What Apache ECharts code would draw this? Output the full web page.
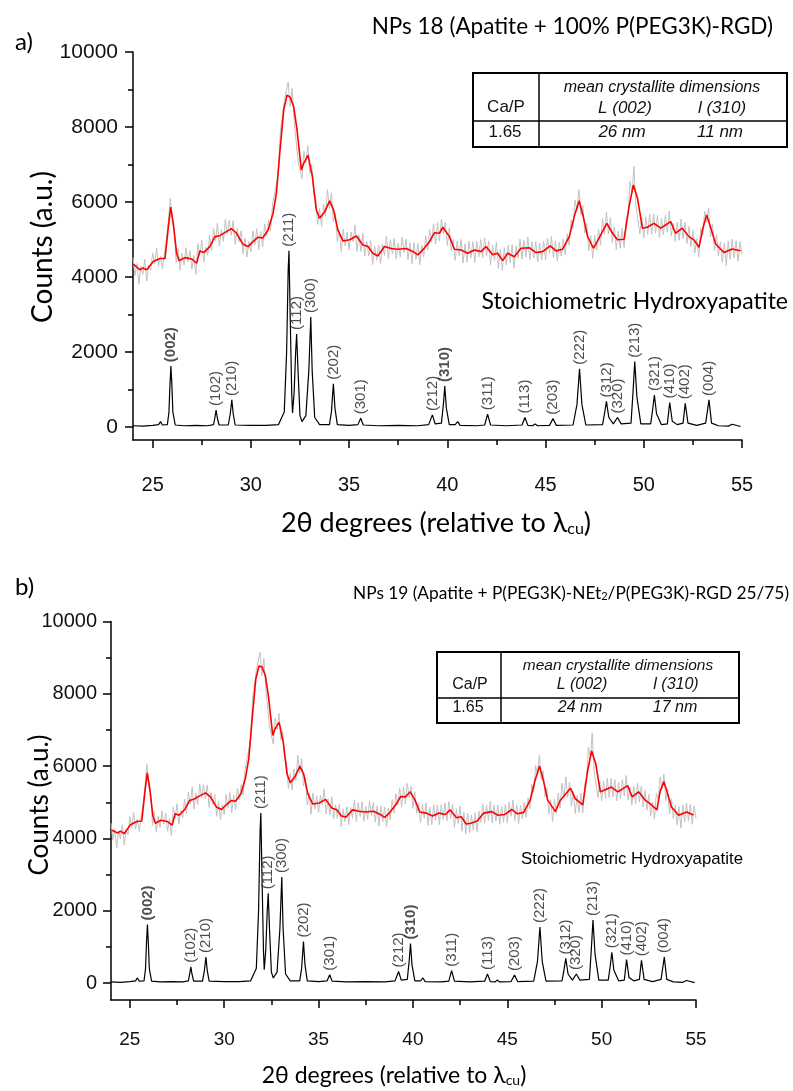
<!DOCTYPE html>
<html><head><meta charset="utf-8">
<script src="https://cdn.jsdelivr.net/npm/echarts@6/dist/echarts.min.js"></script>
<style>html,body{margin:0;padding:0;background:#fff}#c{width:793px;height:1091px}</style>
</head><body><div id="c"></div>
<script>
// ---------- DATA ----------
const xMajorTicks = [25,30,35,40,45,50,55];
const xMinorTicks = [27.5,32.5,37.5,42.5,47.5,52.5];
const yMajorTicks = [0,2000,4000,6000,8000,10000];
const yMinorTicks = [1000,3000,5000,7000,9000];

// smoothed (red) curve, chart a
const redA = [[24.02,4340],[24.36,4190],[24.5,4240],[24.7,4190],[25.03,4410],[25.37,4490],[25.63,4490],[25.8,5340],[25.92,5860],[26.05,5430],[26.22,4630],[26.35,4430],[26.64,4515],[26.98,4480],[27.24,4365],[27.4,4690],[27.6,4650],[27.91,4810],[28.17,5075],[28.42,5100],[28.67,5180],[29.01,5290],[29.27,5165],[29.6,4870],[29.86,4810],[30.11,4940],[30.37,5060],[30.6,5040],[30.88,5250],[31.13,5700],[31.3,6230],[31.47,7300],[31.67,8450],[31.84,8850],[32.01,8790],[32.18,8540],[32.35,7920],[32.57,6850],[32.69,7030],[32.91,7250],[33.13,6680],[33.33,5790],[33.5,5565],[33.76,5740],[34.01,6030],[34.21,5790],[34.43,5250],[34.69,4960],[35.03,4990],[35.37,5090],[35.7,4850],[35.96,4810],[36.21,4630],[36.46,4560],[36.8,4810],[37.14,4760],[37.48,4740],[37.91,4760],[38.24,4680],[38.5,4590],[38.75,4720],[39.09,4940],[39.35,5180],[39.6,5165],[39.77,5325],[40.11,5075],[40.36,4740],[40.7,4720],[41.04,4630],[41.38,4720],[41.72,4675],[41.97,4810],[42.31,4590],[42.56,4630],[42.82,4435],[43.07,4630],[43.41,4540],[43.75,4765],[44.17,4780],[44.51,4650],[44.85,4675],[45.24,4830],[45.53,4695],[45.87,4740],[46.21,5075],[46.46,5610],[46.71,6030],[46.92,5610],[47.14,5075],[47.44,4765],[47.73,5040],[48.12,5430],[48.41,5165],[48.66,4990],[49.0,5005],[49.25,5875],[49.47,6450],[49.68,6100],[49.93,5300],[50.18,5325],[50.52,5430],[50.86,5300],[51.11,5385],[51.37,5475],[51.62,5165],[51.96,5300],[52.3,5075],[52.55,4990],[52.81,4790],[53.03,5340],[53.2,5655],[53.4,5325],[53.66,4880],[54.08,4650],[54.5,4745],[54.93,4700]];

// raw (grey) counts, chart a, sampled every 0.1 degree from 24.0
const rawStart = 24.0, rawStep = 0.1;
const greyA = [
4520,4040,4350,3810,4290,4070,4470,3890,4320,4180,
4640,4340,4770,4290,4550,4210,4640,5000,5500,6100,
5450,5300,4370,4760,4180,4630,4315,4780,4400,4700,
4210,4570,4070,4880,4570,4980,4400,4790,4580,5110,
4700,5300,4965,5440,4820,5270,4950,5530,5140,5510,
5110,5500,4870,5290,4940,5230,4620,5030,4530,4950,
4670,5230,4860,5290,4725,5220,4800,5410,5080,5510,
5220,5920,5900,6480,6800,7880,7900,8700,8650,9200,
8550,9030,8200,8160,7100,7120,6620,7350,7040,7500,
6760,7000,6220,6120,5400,5824,5350,5940,5620,6330,
5827,6240,5470,5700,4940,5250,4680,5270,4830,5195,
4727,5200,4940,5383,4680,5120,4680,5163,4560,4950,
4560,4970,4330,4820,4440,4850,4360,4880,4570,5090,
4480,4990,4620,5030,4480,4900,4535,5060,4648,5004,
4460,4910,4350,4920,4470,4890,4330,4850,4530,5100,
4712,5260,4940,5420,4882,5450,4960,5540,5140,5460,
4840,5305,4700,4990,4440,4960,4570,5000,4370,4880,
4390,4950,4510,4940,4390,4950,4540,5000,4510,5040,
4570,4960,4320,4840,4430,4921,4230,4750,4170,4780,
4320,4850,4380,4860,4232,4820,4510,5010,4475,4970,
4535,5060,4450,4940,4500,4940,4400,4900,4456,4960,
4450,5030,4627,5080,4510,4950,4420,4930,4555,5020,
4600,5150,4845,5520,5310,6050,5780,6327,5650,5900,
5170,5430,4690,5100,4494,5110,4710,5270,4850,5560,
5140,5731,5150,5580,4914,5340,4730,5227,4765,5300,
4785,5550,5676,6550,6233,6950,5898,5930,5150,5577,
5045,5605,5130,5680,5140,5681,5170,5650,5050,5567,
5120,5647,5190,5756,5090,5440,4944,5460,4980,5547,
5020,5460,4890,5345,4800,5240,4640,5020,4541,5290,
5112,5750,5453,5830,5074,5400,4700,5130,4560,4940,
4390,4899,4300,4950,4470,5006,4505,4970,4420,4945,
4600];

// smoothed (red) curve, chart b
const redB = [[24.02,4230],[24.36,4150],[24.5,4200],[24.7,4130],[25.03,4380],[25.37,4470],[25.63,4480],[25.8,5300],[25.92,5810],[26.05,5400],[26.22,4620],[26.35,4420],[26.64,4500],[26.98,4470],[27.24,4370],[27.4,4680],[27.6,4640],[27.91,4800],[28.17,5050],[28.42,5090],[28.67,5170],[29.01,5260],[29.27,5150],[29.6,4860],[29.86,4800],[30.11,4930],[30.37,5050],[30.6,5030],[30.88,5230],[31.13,5680],[31.3,6200],[31.47,7250],[31.67,8400],[31.84,8770],[32.01,8740],[32.18,8500],[32.35,7900],[32.57,6850],[32.69,7030],[32.91,7210],[33.13,6650],[33.33,5780],[33.5,5540],[33.76,5720],[34.01,6000],[34.21,5780],[34.43,5240],[34.69,4950],[35.03,4980],[35.37,5080],[35.7,4840],[35.96,4790],[36.21,4620],[36.46,4590],[36.8,4790],[37.14,4750],[37.48,4730],[37.91,4750],[38.24,4670],[38.5,4580],[38.75,4700],[39.09,4930],[39.35,5160],[39.6,5150],[39.86,5290],[40.11,5060],[40.36,4730],[40.7,4700],[41.04,4620],[41.38,4700],[41.72,4660],[41.97,4790],[42.31,4570],[42.56,4600],[42.82,4400],[43.07,4420],[43.41,4480],[43.75,4700],[44.17,4740],[44.51,4640],[44.85,4660],[45.24,4800],[45.53,4680],[45.87,4720],[46.21,5050],[46.46,5580],[46.71,6000],[46.92,5590],[47.14,5060],[47.55,4740],[47.8,5050],[48.35,5390],[48.6,5100],[49.0,4925],[49.25,5850],[49.47,6420],[49.68,6080],[49.93,5290],[50.1,5325],[50.52,5420],[50.86,5290],[51.11,5370],[51.37,5460],[51.62,5150],[51.96,5290],[52.3,5060],[52.55,4970],[52.93,4790],[53.1,5300],[53.3,5570],[53.45,5320],[53.7,4870],[54.08,4640],[54.5,4730],[54.87,4650]];

// raw (grey) counts, chart b, sampled every 0.1 degree from 24.0
const greyB = [
4420,3960,4260,3740,4200,3990,4380,3820,4250,4100,
4600,4300,4720,4260,4520,4190,4610,4960,5450,6050,
5420,5260,4360,4740,4170,4610,4300,4760,4390,4690,
4200,4560,4080,4860,4560,4960,4390,4780,4570,5090,
4680,5280,4950,5420,4810,5260,4940,5510,5130,5490,
5090,5480,4860,5270,4930,5210,4610,5020,4520,4940,
4660,5210,4850,5270,4715,5200,4790,5390,5070,5490,
5200,5900,5870,6450,6760,7840,7850,8650,8600,9150,
8500,8990,8160,8130,7080,7100,6610,7330,7010,7460,
6720,6960,6200,6100,5380,5800,5330,5920,5600,6300,
5800,6210,5450,5690,4930,5240,4670,5260,4820,5180,
4720,5190,4930,5370,4670,5100,4660,5150,4540,4930,
4550,4950,4320,4800,4460,4880,4380,4860,4560,5070,
4470,4980,4610,5010,4470,4890,4520,5040,4640,4990,
4450,4900,4340,4900,4460,4870,4320,4840,4510,5080,
4700,5240,4930,5400,4870,5430,4950,5520,5130,5440,
4830,5290,4690,4970,4430,4940,4560,4980,4360,4860,
4380,4930,4500,4920,4380,4930,4530,4980,4490,5020,
4550,4940,4300,4820,4410,4900,4200,4720,4120,4700,
4150,4650,4220,4710,4180,4750,4450,4950,4420,4920,
4500,5030,4430,4920,4480,4920,4390,4880,4440,4940,
4430,5010,4610,5060,4490,4930,4410,4910,4540,5000,
4580,5120,4820,5490,5280,6020,5750,6300,5630,5870,
5150,5400,4670,5070,4470,5080,4690,5250,4830,5530,
5120,5700,5130,5560,4880,5300,4690,5180,4720,5250,
4700,5500,5650,6520,6210,6920,5880,5910,5140,5560,
5030,5590,5110,5660,5130,5660,5150,5630,5040,5550,
5100,5630,5170,5740,5070,5420,4930,5440,4960,5530,
5000,5440,4870,5330,4780,5220,4630,5000,4530,5250,
5080,5700,5380,5780,5040,5360,4680,5100,4540,4920,
4380,4880,4290,4930,4450,4980,4480,4940,4390,4900,
4550];

// stoichiometric hydroxyapatite reference pattern (black), same in both charts
const hapPattern = [[24.0,30],[24.5,20],[25.0,40],[25.3,60],[25.4,140],[25.5,50],[25.75,60],[25.83,400],[25.88,1100],[25.93,1620],[25.98,1100],[26.03,400],[26.15,50],[26.6,30],[27.2,40],[27.8,30],[28.1,60],[28.17,250],[28.23,450],[28.29,250],[28.38,50],[28.85,50],[28.95,350],[29.03,720],[29.1,350],[29.2,50],[30.0,40],[30.8,40],[31.4,60],[31.7,400],[31.82,2000],[31.9,4200],[31.94,4700],[32.0,3000],[32.08,900],[32.12,370],[32.2,900],[32.28,2000],[32.33,2480],[32.4,1500],[32.5,300],[32.6,140],[32.8,300],[32.95,1500],[33.05,2930],[33.12,1500],[33.25,250],[33.5,60],[34.0,60],[34.1,400],[34.2,1150],[34.28,500],[34.4,60],[35.0,40],[35.45,60],[35.59,230],[35.72,50],[36.5,30],[37.5,40],[38.5,30],[39.05,60],[39.24,320],[39.38,80],[39.7,100],[39.8,600],[39.87,1090],[39.95,500],[40.1,60],[40.4,60],[40.53,140],[40.65,40],[41.5,30],[41.9,50],[42.05,340],[42.2,50],[43.0,30],[43.8,50],[43.95,250],[44.1,40],[44.35,30],[44.46,80],[44.6,30],[45.2,40],[45.38,220],[45.55,40],[46.4,50],[46.6,600],[46.73,1550],[46.85,600],[47.05,50],[47.9,60],[48.0,350],[48.1,680],[48.22,250],[48.45,80],[48.66,250],[48.85,80],[49.35,100],[49.45,900],[49.54,1740],[49.65,800],[49.85,80],[50.35,80],[50.45,450],[50.54,850],[50.65,350],[50.9,60],[51.2,80],[51.32,650],[51.45,150],[51.7,60],[52.0,100],[52.11,630],[52.25,100],[52.7,40],[53.15,100],[53.32,720],[53.45,100],[53.8,30],[54.3,20],[54.5,70],[54.6,20],[54.93,10]];

// peak positions, heights and Miller indices
const peakPos  = [25.93,28.23,29.03,31.94,32.33,33.05,34.2,35.59,39.24,39.87,42.05,43.95,45.38,46.73,48.1,48.66,49.54,50.54,51.32,52.11,53.32];
const peakHgt  = [1620,450,720,4700,2480,2930,1150,230,320,1090,340,250,220,1550,680,250,1740,850,650,630,720];
const peakName = ['(002)','(102)','(210)','(211)','(112)','(300)','(202)','(301)','(212)','(310)','(311)','(113)','(203)','(222)','(312)','(320)','(213)','(321)','(410)','(402)','(004)'];
const boldPeaks = ['(002)','(310)'];

// ---------- CHART ----------
const chart = echarts.init(document.getElementById('c'), null, {renderer:'canvas'});
const AX = '#000';
const NUM_FONT = 'Liberation Sans, Arial, sans-serif';
const TXT_FONT = 'Lato, "Open Sans", sans-serif';

function xAxes(g, fs, margin){
  return [
    {type:'value', gridIndex:g, min:24, max:55, position:'bottom',
     axisLine:{show:true,onZero:false,lineStyle:{color:AX,width:1.5}},
     axisTick:{show:true,customValues:xMajorTicks,length:8,lineStyle:{color:AX,width:1.5}},
     axisLabel:{show:true,customValues:xMajorTicks,fontSize:fs,color:'#111',fontFamily:NUM_FONT,margin:margin,formatter:v=>String(v)},
     splitLine:{show:false}},
    {type:'value', gridIndex:g, min:24, max:55, position:'bottom',
     axisLine:{show:false,onZero:false},
     axisTick:{show:true,customValues:xMinorTicks,length:5,lineStyle:{color:AX,width:1.5}},
     axisLabel:{show:false}, splitLine:{show:false}}
  ];
}
function yAxes(g, min, fs, margin){
  return [
    {type:'value', gridIndex:g, min:min, max:10000, position:'left',
     axisLine:{show:true,onZero:false,lineStyle:{color:AX,width:1.5}},
     axisTick:{show:true,customValues:yMajorTicks,length:8,lineStyle:{color:AX,width:1.5}},
     axisLabel:{show:true,customValues:yMajorTicks,fontSize:fs,color:'#111',fontFamily:NUM_FONT,margin:margin,formatter:v=>String(v)},
     splitLine:{show:false}},
    {type:'value', gridIndex:g, min:min, max:10000, position:'left',
     axisLine:{show:false,onZero:false},
     axisTick:{show:true,customValues:yMinorTicks,length:5,lineStyle:{color:AX,width:1.5}},
     axisLabel:{show:false}, splitLine:{show:false}}
  ];
}

function chartSeries(xi, yi, red, grey){
  const greyPts = grey.map((v,i)=>[+(rawStart + i*rawStep).toFixed(2), v]);
  const labelPts = peakPos.map((p,i)=>({
    value:[p, peakHgt[i]], name:peakName[i],
    label:{fontWeight: boldPeaks.includes(peakName[i]) ? 'bold' : 'normal'}
  }));
  return [
    {type:'line', xAxisIndex:xi, yAxisIndex:yi, data:greyPts, showSymbol:false, symbol:'none',
     lineStyle:{color:'#c2c2c2',width:1}, z:2, silent:true},
    {type:'line', xAxisIndex:xi, yAxisIndex:yi, data:red, showSymbol:false, symbol:'none',
     lineStyle:{color:'#ff0000',width:1.6}, z:3, silent:true},
    {type:'line', xAxisIndex:xi, yAxisIndex:yi, data:hapPattern, showSymbol:false, symbol:'none',
     lineStyle:{color:'#000',width:1.2}, z:4, silent:true},
    {type:'scatter', xAxisIndex:xi, yAxisIndex:yi, data:labelPts, symbolSize:0, z:5, silent:true,
     label:{show:true, position:'top', distance:4, rotate:90, align:'left', verticalAlign:'middle',
            formatter:p=>p.name, fontSize:15, color:'#222', fontFamily:NUM_FONT}}
  ];
}

function table(x, y, w, h, vx, hy, fsM, t){
  const els = [
    {type:'rect', shape:{x:x,y:y,width:w,height:h}, style:{fill:'none',stroke:'#000',lineWidth:2}},
    {type:'line', shape:{x1:vx,y1:y,x2:vx,y2:y+h}, style:{stroke:'#000',lineWidth:1.5}},
    {type:'line', shape:{x1:x,y1:hy,x2:x+w,y2:hy}, style:{stroke:'#000',lineWidth:1.5}}
  ];
  t.forEach(o=>els.push({type:'text', x:o[1], y:o[2], style:{text:o[0], align:'center', verticalAlign:'middle',
    font:(o[3]?'italic ':'')+(o[4]||fsM)+'px '+NUM_FONT, fill:'#111'}}));
  return els;
}

const graphics = [
  {type:'text', x:15, y:42, style:{text:'a)', font:'24px '+TXT_FONT, fill:'#000', verticalAlign:'middle'}},
  {type:'text', x:773, y:27, style:{text:'NPs 18 (Apatite + 100% P(PEG3K)-RGD)', font:'22.5px '+TXT_FONT, fill:'#000', align:'right', verticalAlign:'middle'}},
  {type:'text', x:788, y:302, style:{text:'Stoichiometric Hydroxyapatite', font:'23px '+TXT_FONT, fill:'#000', align:'right', verticalAlign:'middle'}},
  {type:'text', x:43, y:247, rotation:Math.PI/2, style:{text:'Counts (a.u.)', font:'28px '+TXT_FONT, fill:'#000', align:'center', verticalAlign:'middle'}},
  {type:'text', x:436, y:523, style:{text:'2θ degrees (relative to λ{sub|cu})', font:'27px '+TXT_FONT, fill:'#000', align:'center', verticalAlign:'middle',
     rich:{sub:{fontSize:16, fontFamily:TXT_FONT, verticalAlign:'bottom', lineHeight:14}}}},
  {type:'text', x:15, y:587, style:{text:'b)', font:'24px '+TXT_FONT, fill:'#000', verticalAlign:'middle'}},
  {type:'text', x:789, y:593, style:{text:'NPs 19 (Apatite + P(PEG3K)-NEt{sub|2}/P(PEG3K)-RGD 25/75)', font:'17.3px '+TXT_FONT, fill:'#000', align:'right', verticalAlign:'middle',
     rich:{sub:{fontSize:11, fontFamily:TXT_FONT, verticalAlign:'bottom', lineHeight:9}}}},
  {type:'text', x:743, y:859, style:{text:'Stoichiometric Hydroxyapatite', font:'16.8px '+NUM_FONT, fill:'#000', align:'right', verticalAlign:'middle'}},
  {type:'text', x:40, y:805, rotation:Math.PI/2, style:{text:'Counts (a.u.)', font:'26px '+TXT_FONT, fill:'#000', align:'center', verticalAlign:'middle'}},
  {type:'text', x:394, y:1076, style:{text:'2θ degrees (relative to λ{sub|cu})', font:'23px '+TXT_FONT, fill:'#000', align:'center', verticalAlign:'middle',
     rich:{sub:{fontSize:14, fontFamily:TXT_FONT, verticalAlign:'bottom', lineHeight:12}}}}
].concat(
  table(473,73,314,74,539,121,17,[
    ['mean crystallite dimensions',662,88,true,16],
    ['Ca/P',506,107,false],['L (002)',625,108,true],['l (310)',722,108,true],
    ['1.65',505,132,false],['26 nm',622,132,true],['11 nm',720,132,true]]),
  table(437,652,302,71,501,698,16,[
    ['mean crystallite dimensions',618,666,true,15.5],
    ['Ca/P',470,685,false],['L (002)',582,685,true],['l (310)',676,685,true],
    ['1.65',468,708,false],['24 nm',580,708,true],['17 nm',675,708,true]])
);

chart.setOption({
  animation:false,
  backgroundColor:'#fff',
  grid:[{left:133,top:52,width:609,height:388},{left:111,top:621.5,width:585,height:378.5}],
  xAxis:[].concat(xAxes(0,20,35), xAxes(1,19,30)),
  yAxis:[].concat(yAxes(0,-350,21,15), yAxes(1,-470,20,14)),
  series:[].concat(chartSeries(0,0,redA,greyA), chartSeries(2,2,redB,greyB)),
  graphic:graphics
});
</script></body></html>
